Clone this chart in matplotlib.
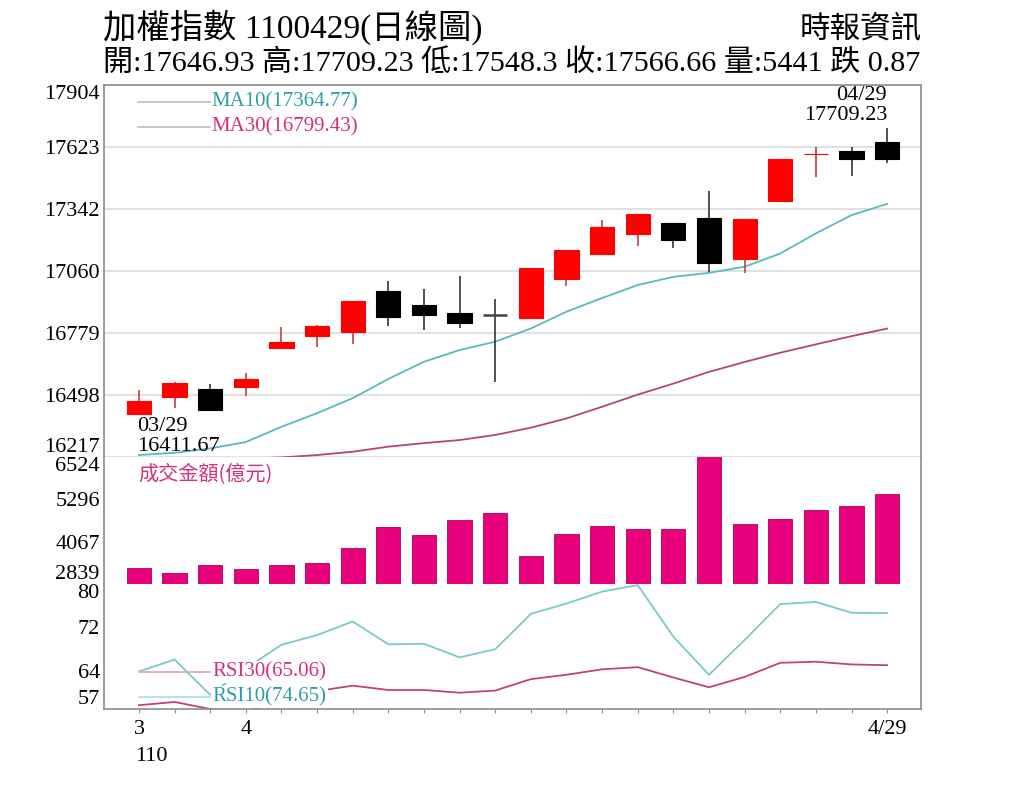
import matplotlib
matplotlib.use("Agg")
import matplotlib.pyplot as plt
import numpy as np

plt.rcParams['font.family'] = ['Liberation Serif', 'Noto Sans CJK TC', 'DejaVu Sans']

# 日期 (110年 3/29 - 4/29)
dates = ['03/29', '03/30', '03/31', '04/01', '04/06', '04/07', '04/08', '04/09',
         '04/12', '04/13', '04/14', '04/15', '04/16', '04/19', '04/20', '04/21',
         '04/22', '04/23', '04/26', '04/27', '04/28', '04/29']

open_ = [16411.67, 16488, 16524, 16536, 16710, 16766, 16782, 16971, 16905, 16868, 16864,
         16848, 17025, 17139, 17229, 17276, 17299, 17113, 17377, 17589, 17605, 17646.93]
high = [16521, 16556, 16548, 16599, 16805, 16815, 16926, 17015, 16979, 17038, 16932,
        17072, 17154, 17291, 17320, 17276, 17423, 17296, 17568, 17624, 17624, 17709.23]
low = [16411.67, 16438, 16430, 16494, 16705, 16714, 16729, 16811, 16793, 16800, 16558,
       16848, 16994, 17139, 17175, 17163, 17057, 17052, 17377, 17488, 17491, 17548.3]
close = [16471, 16551, 16430, 16569, 16738, 16811, 16924, 16850, 16859, 16823, 16861,
         17072, 17154, 17260, 17320, 17201, 17095, 17296, 17568, 17593, 17567.53, 17566.66]

ma10 = [16226, 16236, 16256, 16285, 16354, 16416, 16484, 16571, 16649, 16702, 16740,
        16800, 16876, 16938, 16997, 17034, 17052, 17080, 17140, 17231, 17314, 17364.77]
ma30 = [16195, 16200, 16205, 16210, 16215, 16226, 16241, 16264, 16280, 16294, 16317,
        16350, 16392, 16445, 16500, 16550, 16603, 16648, 16690, 16728, 16765, 16799.43]

# 成交金額(億元)
volume = [3294, 3150, 3390, 3266, 3390, 3457, 3893, 4484, 4270, 4696, 4908,
          3660, 4290, 4522, 4435, 4435, 6524, 4580, 4725, 4986, 5102, 5441]

rsi10 = [63.9, 66.1, 59.6, 64.5, 68.8, 70.6, 73.1, 68.9, 69.0, 66.5, 68.0,
         74.5, 76.4, 78.6, 79.8, 70.3, 63.3, 69.7, 76.3, 76.7, 74.7, 74.65]
rsi30 = [57.7, 58.3, 57.0, 56.4, 58.8, 60.3, 61.3, 60.5, 60.5, 60.0, 60.4,
         62.5, 63.3, 64.3, 64.7, 62.8, 61.0, 62.9, 65.5, 65.7, 65.2, 65.06]

price_ticks = [16217, 16498, 16779, 17060, 17342, 17623, 17904]
vol_ticks = [2839, 4067, 5296, 6524]
rsi_ticks = [57, 64, 72, 80]

RED = '#ff0000'
PINK = '#e8007d'
FRAME = '#8c8c8c'

x = np.arange(len(dates))

fig = plt.figure(figsize=(10.24, 7.9), dpi=100)
ax1 = fig.add_axes([0.1016, 0.4215, 0.7978, 0.4709])
ax2 = fig.add_axes([0.1016, 0.2608, 0.7978, 0.1607], sharex=ax1)
ax3 = fig.add_axes([0.1016, 0.1025, 0.7978, 0.1583], sharex=ax1)

for ax in (ax1, ax2, ax3):
    for s in ax.spines.values():
        s.set_color(FRAME)
        s.set_linewidth(1.2)
    ax.tick_params(axis='y', length=0, pad=3, labelsize=16)
ax1.spines['bottom'].set_visible(False)
ax2.spines['top'].set_visible(False)
ax2.spines['bottom'].set_visible(False)
ax3.spines['top'].set_visible(False)

# ---- K線 ----
for i in x:
    up = close[i] >= open_[i]
    c = RED if up else 'black'
    wick = '#c83c3c' if up else '#333333'
    ax1.vlines(i, low[i], high[i], color=wick, linewidth=1.2, zorder=3)
    h = close[i] - open_[i]
    if abs(h) < 4:
        # 十字線
        ax1.hlines((open_[i] + close[i]) / 2, i - 0.34, i + 0.34,
                   color=c if up else '#444444', linewidth=1.8, zorder=4)
    else:
        ax1.bar(i, h, bottom=open_[i], width=0.68, color=c, edgecolor=c, linewidth=0.8, zorder=4)

ax1.plot(x, ma10, color='#5ab8c2', linewidth=1.3, zorder=2)
ax1.plot(x, ma30, color='#b8427e', linewidth=1.3, zorder=2)
ax1.set_xlim(-0.98, 21.95)
ax1.set_ylim(price_ticks[0], price_ticks[-1])
ax1.set_yticks(price_ticks)
ax1.set_yticklabels([str(t) for t in price_ticks])
ax1.grid(axis='y', color='#dcdcdc', linewidth=1.2)
ax1.set_axisbelow(True)
ax1.tick_params(axis='x', bottom=False, labelbottom=False)

# 圖例
ax1.plot([0.042, 0.130], [0.954, 0.954], transform=ax1.transAxes, color='#bdbdbd', linewidth=1.2)
ax1.plot([0.042, 0.130], [0.887, 0.887], transform=ax1.transAxes, color='#bdbdbd', linewidth=1.2)
ax1.text(0.131, 0.954, 'MA10(17364.77)', transform=ax1.transAxes, color='#2a9fa8',
         fontsize=15, va='center', ha='left')
ax1.text(0.131, 0.887, 'MA30(16799.43)', transform=ax1.transAxes, color='#d6307c',
         fontsize=15, va='center', ha='left')

# 最高/最低標註
ax1.annotate('03/29\n16411.67', xy=(0, low[0]), xytext=(-1, -2), textcoords='offset points',
             ha='left', va='top', fontsize=16, linespacing=1.05, zorder=5)
ax1.annotate('04/29\n17709.23', xy=(21, high[21]), xytext=(0, 2), textcoords='offset points',
             ha='right', va='bottom', fontsize=16, linespacing=1.05, zorder=5)

# ---- 成交金額 ----
ax2.bar(x, volume, width=0.68, color=PINK, edgecolor='#b0005a', linewidth=0.6)
ax2.set_ylim(vol_ticks[0], vol_ticks[-1])
ax2.set_yticks(vol_ticks)
ax2.set_yticklabels([str(t) for t in vol_ticks])
ax2.tick_params(axis='x', bottom=False, labelbottom=False)
ax2.text(0.042, 0.86, '成交金額(億元)', transform=ax2.transAxes, color='#d6307c',
         fontsize=14.5, va='center', ha='left', family=['Noto Sans CJK TC', 'DejaVu Sans'])

# ---- RSI ----
ax3.plot(x, rsi10, color='#7cc8cc', linewidth=1.3, zorder=2)
ax3.plot(x, rsi30, color='#c2407c', linewidth=1.3, zorder=2)
ax3.set_ylim(rsi_ticks[0], rsi_ticks[-1])
ax3.set_yticks(rsi_ticks)
ax3.set_yticklabels([str(t) for t in rsi_ticks])
ax3.plot([0.043, 0.133], [0.296, 0.296], transform=ax3.transAxes, color='#dca4bf', linewidth=1.2, zorder=3)
ax3.plot([0.043, 0.133], [0.096, 0.096], transform=ax3.transAxes, color='#a6dede', linewidth=1.2, zorder=3)
ax3.text(0.133, 0.296, 'RSI30(65.06)', transform=ax3.transAxes, color='#d6307c', fontsize=15,
         va='center', ha='left', zorder=4, bbox=dict(fc='white', ec='none', pad=1))
ax3.text(0.133, 0.096, 'RSI10(74.65)', transform=ax3.transAxes, color='#2a9fa8', fontsize=15,
         va='center', ha='left', zorder=4, bbox=dict(fc='white', ec='none', pad=1))

xlabels = ['' for _ in dates]
xlabels[0] = '3'
xlabels[3] = '4'
xlabels[-1] = '4/29'
ax3.set_xticks(x)
ax3.set_xticklabels(xlabels)
ax3.tick_params(axis='x', length=3, color=FRAME, pad=5, labelsize=16)
ax3.text(-0.12, -0.30, '110', transform=ax3.get_xaxis_transform(), fontsize=16, ha='left', va='top')

# 上下端刻度文字內縮
for ax in (ax1, ax2, ax3):
    labs = ax.get_yticklabels()
    labs[0].set_va('bottom')
    labs[-1].set_va('top')

# ---- 標題 ----
fig.text(0.1006, 0.965, '加權指數 1100429(日線圖)', fontsize=24, ha='left', va='center')
fig.text(0.9, 0.962, '時報資訊', fontsize=22, ha='right', va='center',
         family=['Noto Sans CJK TC', 'DejaVu Sans'])
fig.text(0.1006, 0.920, '開:17646.93 高:17709.23 低:17548.3 收:17566.66 量:5441 跌 0.87',
         fontsize=21.7, ha='left', va='center')

fig.savefig('out.png', dpi=100, facecolor='white')
